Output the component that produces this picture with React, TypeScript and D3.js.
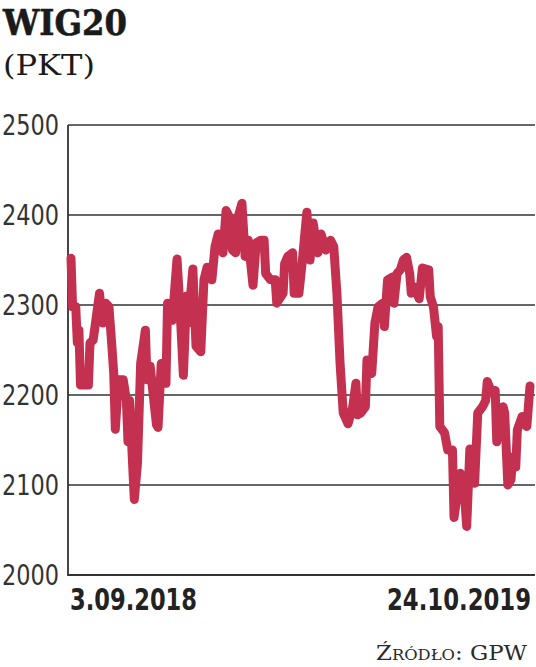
import React from "react";
import * as d3 from "d3";

// trading-day offsets from 3.09.2018 and WIG20 close (pkt)
const days = [0,1,3,4,5,6,11,12,14,18,20,22,24,26,27,28,30,33,35,36,37,40,42,44,47,48,50,54,55,57,60,61,64,67,69,71,73,74,77,79,82,84,86,89,91,93,96,98,100,102,104,105,108,110,112,115,117,120,122,123,126,129,130,134,135,137,140,141,144,146,149,151,153,156,158,161,164,166,168,170,172,175,178,180,181,183,186,187,190,192,194,197,198,200,203,204,206,208,210,212,214,215,217,220,222,226,227,229,231,232,233,236,238,241,242,246,248,250,252,255,257,260,262,263,266,268,269,271,273,274,276,278,279,281,282,285,288,290];
const values = [2352,2298,2298,2258,2272,2211,2211,2258,2261,2313,2280,2302,2298,2250,2224,2162,2217,2217,2194,2148,2194,2084,2124,2235,2272,2217,2232,2167,2164,2235,2213,2302,2283,2351,2291,2222,2310,2280,2340,2254,2248,2328,2342,2328,2365,2379,2358,2405,2398,2361,2358,2394,2413,2354,2372,2322,2369,2372,2372,2335,2328,2328,2302,2313,2346,2354,2358,2313,2313,2346,2403,2350,2391,2358,2379,2361,2372,2365,2313,2235,2180,2168,2187,2213,2178,2180,2187,2239,2224,2280,2298,2302,2276,2328,2331,2302,2335,2339,2350,2353,2335,2313,2320,2307,2341,2339,2309,2298,2265,2276,2165,2158,2139,2139,2064,2113,2106,2054,2140,2102,2180,2187,2194,2215,2202,2205,2148,2180,2187,2180,2100,2106,2131,2120,2161,2176,2165,2210];

const yTicks = [2000, 2100, 2200, 2300, 2400, 2500];
const xLabels = ["3.09.2018", "24.10.2019"];
const title = "WIG20";
const unit = "(PKT)";
const source = "Źródło: GPW";

export default function App() {
  const W = 536, H = 667;
  const left = 68, right = 535, top = 125, bottom = 575;
  const x = d3.scaleLinear().domain([0, d3.max(days) as number]).range([71, 530]);
  const y = d3.scaleLinear().domain([2000, 2500]).range([bottom, top]);
  const pts = days.map((d, i) => [d, values[i]] as [number, number]);
  const line = d3.line<[number, number]>().x(d => x(d[0])).y(d => y(d[1])).curve(d3.curveLinear);
  const dark = "#222";
  return (
    <svg width={W} height={H} style={{ position: "absolute", left: 0, top: 0, background: "#fff" }}>
      <text x={3} y={35} fontFamily="'DejaVu Serif'" fontWeight="bold" fontSize={35} fill="#1a1a1a" stroke="#1a1a1a" strokeWidth={0.6} textLength={124} lengthAdjust="spacingAndGlyphs">{title}</text>
      <text x={3} y={75} fontFamily="'DejaVu Serif'" fontSize={28} fill="#1a1a1a" textLength={92} lengthAdjust="spacingAndGlyphs">{unit}</text>
      {yTicks.map(t => (
        <g key={t}>
          {t > 2000 && <line x1={left} x2={right} y1={y(t)} y2={y(t)} stroke="#333" strokeWidth={1.5} />}
          <text x={2} y={y(t)} dy="0.36em" fontFamily="'DejaVu Sans Condensed', 'DejaVu Sans'" fontWeight={300} fontSize={28} fill="#333" textLength={57} lengthAdjust="spacingAndGlyphs">{t}</text>
        </g>
      ))}
      <path d={`M${left},${top}V${bottom}H${right}`} fill="none" stroke="#333" strokeWidth={1.8} />
      <path d={line(pts) || ""} fill="none" stroke="#c4304f" strokeWidth={9} strokeLinejoin="round" strokeLinecap="round" />
      <text x={70} y={610} fontFamily="'DejaVu Sans Condensed', 'DejaVu Sans'" fontWeight="bold" fontSize={31} fill={dark} textLength={127} lengthAdjust="spacingAndGlyphs">{xLabels[0]}</text>
      <text x={531} y={610} textAnchor="end" fontFamily="'DejaVu Sans Condensed', 'DejaVu Sans'" fontWeight="bold" fontSize={31} fill={dark} textLength={144} lengthAdjust="spacingAndGlyphs">{xLabels[1]}</text>
      <text x={527} y={660} textAnchor="end" fontFamily="'DejaVu Serif'" fontSize={21} fill="#2a2a2a" style={{ fontVariant: "small-caps" }} textLength={151} lengthAdjust="spacingAndGlyphs">{source}</text>
    </svg>
  );
}
